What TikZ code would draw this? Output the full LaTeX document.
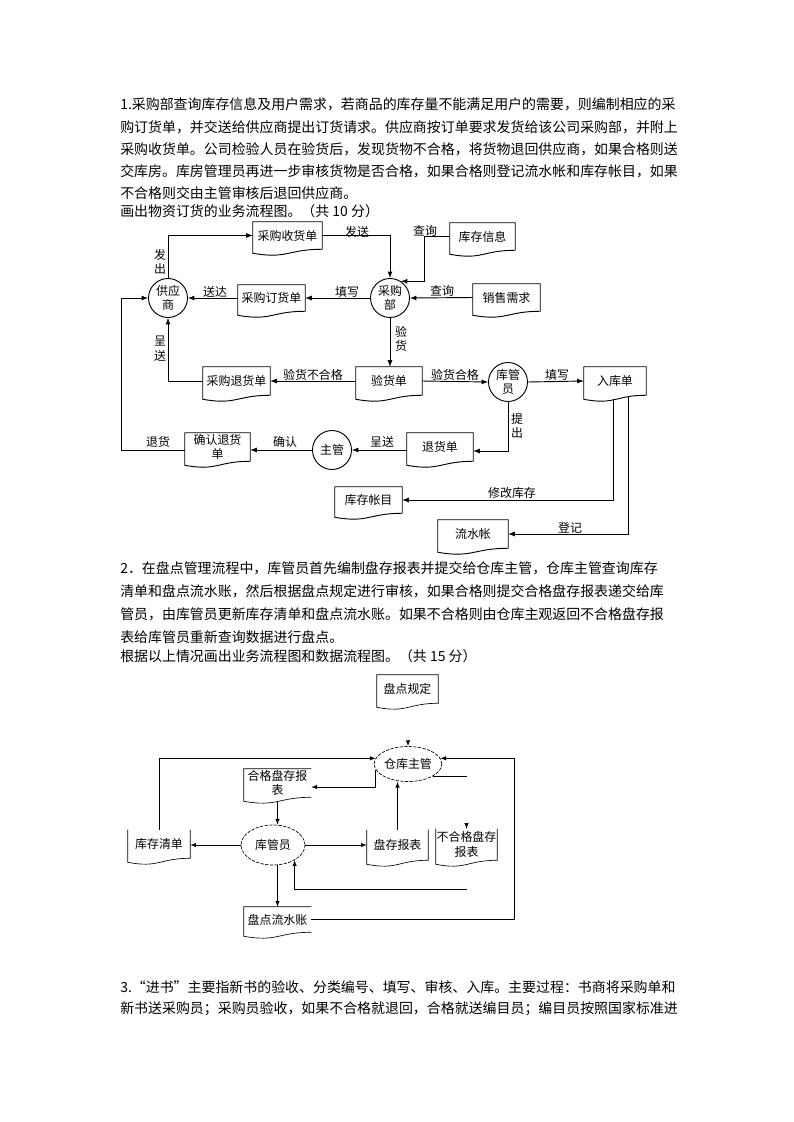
\documentclass[tikz,border=0pt]{standalone}
\usepackage{fontspec}
\setmainfont{Noto Sans CJK SC}
\usetikzlibrary{calc,shapes.geometric}

\def\px{0.02648cm}

\tikzset{
  docbox/.style={inner sep=0pt, align=center, font=\fontsize{9}{11}\selectfont},
  docline/.style={line width=0.7pt},
  proc/.style={draw, circle, line width=0.7pt, minimum size=39*\px, inner sep=0pt, align=center, font=\fontsize{9}{11}\selectfont},
  oval/.style={draw, ellipse, dash pattern=on 2.5pt off 1pt, line width=0.5pt, inner sep=0pt, font=\fontsize{9}{11}\selectfont},
  flow/.style={-latex, line width=0.7pt},
  flowb/.style={-latex, line width=0.5pt},
  lbl/.style={inner sep=0pt, align=center, font=\fontsize{9}{11}\selectfont},
  para/.style={anchor=west, inner sep=0pt, font=\fontsize{10.5}{12}\selectfont},
}

% document box: name, x1, y1, x2, y2, text
\newcommand{\docnode}[6]{
   \node[docbox, minimum width={(#4-#2)*\px}, minimum height={(#5-#3)*\px}] (#1) at ({(#2+#4)/2},{(#3+#5)/2}) {#6};
}
\newcommand{\docfull}[1]{
   \draw[docline] (#1.south east) .. controls (#1.south) and ($(#1.south)+(0,10)$) .. ($(#1.south west)+(0,4)$) -- (#1.north west) -- (#1.north east) -- cycle;
}
\newcommand{\docnotop}[1]{
   \draw[docline] (#1.north east) -- (#1.south east) .. controls (#1.south) and ($(#1.south)+(0,10)$) .. ($(#1.south west)+(0,4)$) -- (#1.north west);
}
\newcommand{\docnoright}[1]{
   \draw[docline] (#1.south east) .. controls (#1.south) and ($(#1.south)+(0,10)$) .. ($(#1.south west)+(0,4)$) -- (#1.north west) -- (#1.north east);
}

\begin{document}
\begin{tikzpicture}[x=\px, y=-\px]

		% Page
		\fill[white] (0,0) rectangle (793,1122);
		\useasboundingbox (0,0) rectangle (793,1122);

		% Text 1
		\node[para] (t1a) at (120,104) {1.采购部查询库存信息及用户需求，若商品的库存量不能满足用户的需要，则编制相应的采};
		\node[para] (t1b) at (120,127) {购订货单，并交送给供应商提出订货请求。供应商按订单要求发货给该公司采购部，并附上};
		\node[para] (t1c) at (120,149) {采购收货单。公司检验人员在验货后，发现货物不合格，将货物退回供应商，如果合格则送};
		\node[para] (t1d) at (120,171) {交库房。库房管理员再进一步审核货物是否合格，如果合格则登记流水帐和库存帐目，如果};
		\node[para] (t1e) at (120,193) {不合格则交由主管审核后退回供应商。};
		\node[para] (t1f) at (120,211) {画出物资订货的业务流程图。（共 10 分）};

		% Flow 1: nodes
		\node[proc] (gys) at (168,298) {供应\\商};
		\node[proc] (cgb) at (390,298) {采购\\部};
		\node[proc] (kgy) at (508,382) {库管\\员};
		\node[proc] (zg) at (332,450) {主管};
		\docnode{shd}{253}{222}{322}{249}{采购收货单}
		\docnode{kcxx}{450}{223}{515}{250}{库存信息}
		\docnode{dhd}{238}{285}{305}{311}{采购订货单}
		\docnode{xsxq}{473}{284}{540}{311}{销售需求}
		\docnode{yhd}{356}{367}{422}{395}{验货单}
		\docnode{thd}{203}{367}{270}{395}{采购退货单}
		\docnode{rkd}{584}{367}{646}{395}{入库单}
		\docnode{tuihd}{407}{433}{473}{461}{退货单}
		\docnode{qrthd}{185}{433}{250}{461}{确认退货\\单}
		\docnode{kczm}{335}{487}{402}{513}{库存帐目}
		\docnode{lsz}{438}{520}{508}{548}{流水帐}
		\docfull{shd} \docfull{kcxx} \docfull{dhd} \docfull{xsxq}
		\docfull{yhd} \docfull{thd} \docfull{rkd} \docfull{tuihd}
		\docfull{qrthd} \docfull{kczm} \docfull{lsz}

		% Flow 1: lines
		\draw[flow] (gys.north) |- (shd.west);
		\draw[flow] (shd.east) -| (cgb.north);
		\draw[flow] (kcxx.west) -- ++(-25,0) |- (cgb.57);
		\draw[flow] (xsxq.west) -- (cgb.east);
		\draw[flow] (cgb.west) -- (dhd.east);
		\draw[flow] (dhd.west) -- (gys.east);
		\draw[flow] (cgb.south) -- (cgb.south |- yhd.north);
		\draw[flow] (yhd.west) -- (thd.east);
		\draw[flow] (thd.west) -| (gys.south);
		\draw[flow] (yhd.east) -- (kgy.west);
		\draw[flow] (kgy.east) -- (rkd.west);
		\draw[flow] (kgy.south) |- ($(tuihd.east)+(0,4)$);
		\draw[flow] (tuihd.west |- zg.east) -- (zg.east);
		\draw[flow] (zg.west) -- (qrthd.east |- zg.west);
		\draw[flow] (qrthd.west |- zg.west) -- ++(-63,0) |- (gys.west);
		\draw[flow] ($(rkd.south)+(-2,4)$) |- (kczm.east);
		\draw[flow] ($(rkd.south)+(13,2)$) |- (lsz.east);

		% Flow 1: labels
		\node[lbl] (lfc) at (160,262) {发\\出};
		\node[lbl] (lfs) at (357,232) {发送};
		\node[lbl] (lcx1) at (425,231) {查询};
		\node[lbl] (lcx2) at (442,291) {查询};
		\node[lbl] (ltx1) at (347,292) {填写};
		\node[lbl] (lsd) at (215,292) {送达};
		\node[lbl] (lyh) at (401,339) {验\\货};
		\node[lbl] (lcs1) at (160,349) {呈\\送};
		\node[lbl] (lbhg) at (313,375) {验货不合格};
		\node[lbl] (lhg) at (455,375) {验货合格};
		\node[lbl] (ltx2) at (557,375) {填写};
		\node[lbl] (ltc) at (517,426) {提\\出};
		\node[lbl] (lcs2) at (382,442) {呈送};
		\node[lbl] (lqr) at (285,442) {确认};
		\node[lbl] (lth) at (158,442) {退货};
		\node[lbl] (lxg) at (512,493) {修改库存};
		\node[lbl] (ldj) at (570,528) {登记};

		% Text 2
		\node[para] (t2a) at (120,568) {2．在盘点管理流程中，库管员首先编制盘存报表并提交给仓库主管，仓库主管查询库存};
		\node[para] (t2b) at (120,591) {清单和盘点流水账，然后根据盘点规定进行审核，如果合格则提交合格盘存报表递交给库};
		\node[para] (t2c) at (120,614) {管员，由库管员更新库存清单和盘点流水账。如果不合格则由仓库主观返回不合格盘存报};
		\node[para] (t2d) at (120,637) {表给库管员重新查询数据进行盘点。};
		\node[para] (t2e) at (120,656) {根据以上情况画出业务流程图和数据流程图。（共 15 分）};

		% Flow 2
		\begin{scope}[docline/.style={line width=0.5pt}]
		\node[oval, minimum width=63*\px, minimum height=35*\px] (ckzg) at (408,764) {仓库主管};
		\node[oval, minimum width=64*\px, minimum height=40*\px] (kgy2) at (273,845) {库管员};
		\docnode{pdgd}{377}{675}{438}{703}{盘点规定}
		\docnode{hg}{244}{769}{311}{797}{合格盘存报\\表}
		\docnode{kcqd}{128}{830}{190}{858}{库存清单}
		\docnode{pcbb}{367}{830}{428}{860}{盘存报表}
		\docnode{bhg}{436}{829}{497}{860}{不合格盘存\\报表}
		\docnode{pdls}{244}{907}{311}{932}{盘点流水账}
		\docfull{pdgd}
		\docnoright{hg} \docnoright{pdls}
		\docnotop{kcqd} \docnotop{pcbb} \docnotop{bhg}

		\draw[flowb] ($(ckzg.north)+(0,-6)$) -- (ckzg.north);
		\draw[flowb] (kcqd.north) |- (ckzg.170);
		\draw[flowb] (ckzg.190) |- ($(hg.east)+(0,4)$);
		\draw[flowb] ($(hg.south)+(0,4)$) -- (kgy2.north -| hg.south);
		\draw[flowb] (kgy2.west) -- (kcqd.east |- kgy2.west);
		\draw[flowb] (kgy2.east) -- (pcbb.west |- kgy2.east);
		\draw[flowb] (pcbb.north) -- (pcbb.north |- ckzg.south);
		\draw[line width=0.5pt] (ckzg.-25) -- (ckzg.-25 -| bhg.north);
		\draw[flowb] ($(bhg.north)+(0,-6)$) -- (bhg.north);
		\coordinate (fh) at (467,889);
		\draw[flowb] (fh) -| (kgy2.-35);
		\draw[flowb] (kgy2.south -| pdls.north) -- (pdls.north);
		\draw[flowb] (pdls.east) -| ($(ckzg.10)+(74,0)$) -- (ckzg.10);
		\end{scope}

		% Text 3
		\node[para] (t3a) at (120,987) {3.“进书”主要指新书的验收、分类编号、填写、审核、入库。主要过程：书商将采购单和};
		\node[para] (t3b) at (120,1009) {新书送采购员；采购员验收，如果不合格就退回，合格就送编目员；编目员按照国家标准进};

	\end{tikzpicture}
\end{document}
